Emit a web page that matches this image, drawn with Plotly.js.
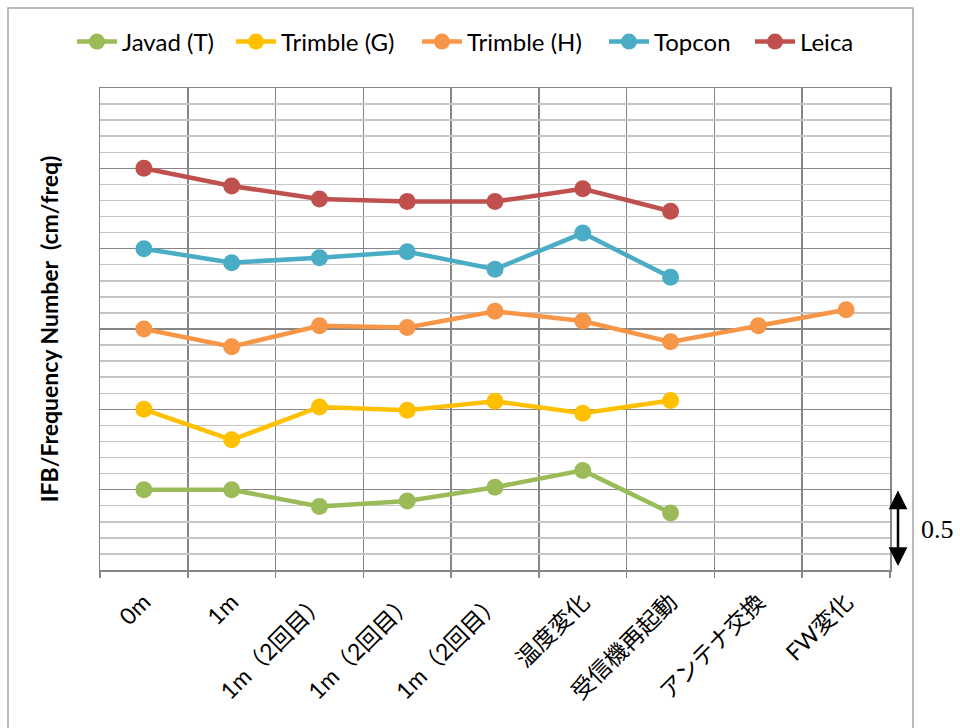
<!DOCTYPE html>
<html><head><meta charset="utf-8">
<script src="https://cdn.plot.ly/plotly-3.0.1.min.js"></script>
<style>body{margin:0;background:#fff}</style>
</head><body><div id="chart" style="width:960px;height:728px"></div>
<script>
const categories = ['0m','1m','1m（2回目）','1m（2回目）','1m（2回目）','温度変化','受信機再起動','アンテナ交換','FW変化'];
const javadT   = [0.50, 0.50, 0.395, 0.43, 0.515, 0.62, 0.355];
const trimbleG = [1.00, 0.81, 1.015, 0.995, 1.05, 0.975, 1.055];
const trimbleH = [1.50, 1.39, 1.52, 1.51, 1.61, 1.55, 1.42, 1.52, 1.62];
const topcon   = [2.00, 1.913, 1.944, 1.981, 1.872, 2.097, 1.822];
const leica    = [2.50, 2.39, 2.309, 2.293, 2.293, 2.373, 2.233];
const seriesNames  = ['Javad (T)','Trimble (G)','Trimble (H)','Topcon','Leica'];
const seriesValues = [javadT, trimbleG, trimbleH, topcon, leica];
const seriesColors = ['#9BBB59','#FFC000','#F79646','#4BACC6','#C0504D'];
const yTitle = 'IFB/Frequency Number  (cm/freq)';
const scaleLabel = '0.5';

const W = 960, H = 728, L = 100, R = 70, T = 88, B = 158;
const pw = W - L - R, ph = H - T - B;
const px = v => (v - L) / pw;
const py = v => (H - B - v) / ph;

const slots = categories.map((c, i) => i);
const legendStarts = [72, 231, 417, 604, 750];
const legendKeys = ['legend','legend2','legend3','legend4','legend5'];

const traces = seriesValues.map((vals, k) => ({
  type: 'scatter', mode: 'lines+markers',
  x: slots.slice(0, vals.length), y: vals,
  name: seriesNames[k],
  legend: legendKeys[k],
  line: {color: seriesColors[k], width: 4.5},
  marker: {color: seriesColors[k], size: 17}
}));

const font = 'Lato, "Noto Sans CJK JP", sans-serif';
const layout = {
  width: W, height: H,
  margin: {l: L, r: R, t: T, b: B},
  paper_bgcolor: '#ffffff', plot_bgcolor: '#ffffff',
  font: {family: font, color: '#000000', size: 18},
  xaxis: {
    range: [-0.5, categories.length - 0.5],
    tickmode: 'array', tickvals: slots, ticktext: categories,
    tickangle: -45, ticks: '', showgrid: false, zeroline: false,
    tickfont: {family: font, size: 23, color: '#000'},
    ticklabelstandoff: 8,
    showline: true, mirror: true, linecolor: '#868686', linewidth: 1.5,
    minor: {tickmode: 'linear', tick0: -0.5, dtick: 1, showgrid: true,
            gridcolor: '#868686', gridwidth: 1.5, ticks: 'outside', ticklen: 6,
            tickcolor: '#868686', tickwidth: 1.5},
    fixedrange: true
  },
  yaxis: {
    range: [0, 3], dtick: 0.5, tick0: 0, showticklabels: false, ticks: '',
    showgrid: true, gridcolor: '#868686', gridwidth: 1.5, zeroline: false,
    showline: true, mirror: true, linecolor: '#868686', linewidth: 1.5,
    minor: {dtick: 0.1, tick0: 0, showgrid: true, gridcolor: '#c6c6c6', gridwidth: 1.5},
    title: {text: yTitle, font: {family: font, size: 23, color: '#000', weight: 'bold'}, standoff: 33},
    fixedrange: true
  },
  shapes: [{
    type: 'rect', xref: 'paper', yref: 'paper', layer: 'below',
    x0: px(8), x1: px(913), y0: py(8), y1: py(760),
    line: {color: '#a6a6a6', width: 1.5}, fillcolor: 'rgba(0,0,0,0)'
  }],
  annotations: [
    {xref: 'paper', yref: 'y', x: px(898), y: 0.025, text: '', showarrow: true,
     ax: 0, ay: -77, arrowside: 'end+start', arrowhead: 2, arrowsize: 1.5,
     arrowwidth: 2.5, arrowcolor: '#000'},
    {xref: 'paper', yref: 'paper', x: px(937), y: py(529), text: scaleLabel,
     showarrow: false, xanchor: 'center', yanchor: 'middle',
     font: {family: '"Liberation Serif", serif', size: 26, color: '#000'}}
  ],
  showlegend: true
};
legendKeys.forEach((key, k) => {
  layout[key] = {
    x: px(legendStarts[k]), xanchor: 'left', y: py(42), yanchor: 'middle',
    orientation: 'h', bgcolor: 'rgba(0,0,0,0)', borderwidth: 0,
    font: {family: font, size: 24, color: '#000'}, itemwidth: 40
  };
});

Plotly.newPlot('chart', traces, layout, {displayModeBar: false, staticPlot: true});
</script></body></html>
